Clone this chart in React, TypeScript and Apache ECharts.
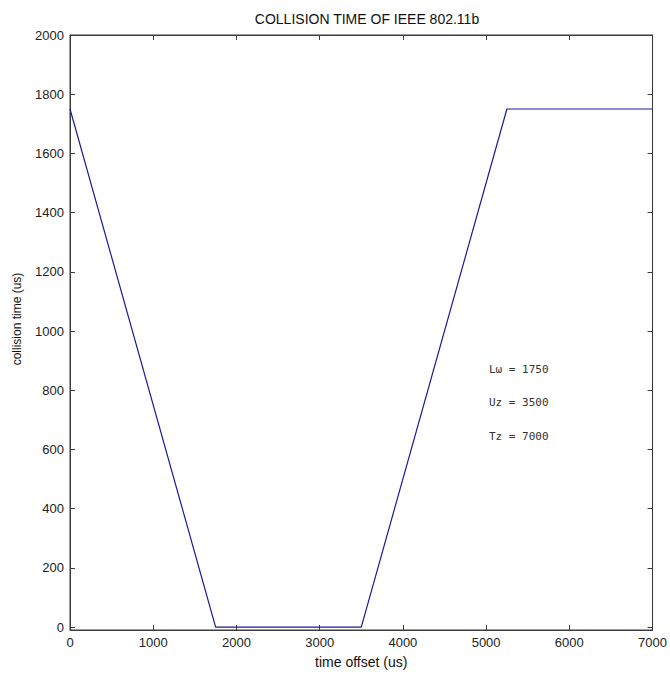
import React, { useEffect, useRef } from "react";
import * as echarts from "echarts";

const offsets = [0, 1750, 3500, 5250, 7000];
const collision = [1750, 0, 0, 1750, 1750];
const xRange = [0, 7000];
const xStep = 1000;
const yRange = [-10, 2000];
const ySplits = 10;
const notes = ["Lω = 1750", "Uz = 3500", "Tz = 7000"];

export default function App() {
  const ref = useRef<HTMLDivElement>(null);
  useEffect(() => {
    if (!ref.current) return;
    const chart = echarts.init(ref.current, null, { renderer: "svg" });
    const axisColor = "#3c3c3c";
    const font = "Liberation Sans, Arial, sans-serif";
    const tick = { show: true, inside: true, length: 5, lineStyle: { color: axisColor, width: 1 } };
    const line = { show: true, onZero: false, lineStyle: { color: axisColor, width: 1 } };
    const label = { fontFamily: font, fontSize: 13, color: "#222", margin: 6, formatter: (v: number) => String(v) };
    chart.setOption({
      animation: false,
      backgroundColor: "#ffffff",
      title: {
        text: "COLLISION TIME OF IEEE 802.11b",
        left: 362,
        top: 7,
        textAlign: "center",
        textStyle: { fontFamily: font, fontSize: 14, fontWeight: "normal", color: "#111" },
      },
      grid: { left: 70, right: 16, top: 35, bottom: 43, show: true, borderColor: axisColor, borderWidth: 1 },
      xAxis: [
        {
          type: "value",
          min: xRange[0],
          max: xRange[1],
          interval: xStep,
          position: "bottom",
          name: "time offset (us)",
          nameLocation: "middle",
          nameGap: 25,
          nameTextStyle: { fontFamily: font, fontSize: 14, color: "#111" },
          axisLine: line,
          axisTick: tick,
          axisLabel: label,
          splitLine: { show: false },
        },
        {
          type: "value",
          min: xRange[0],
          max: xRange[1],
          interval: xStep,
          position: "top",
          axisLine: line,
          axisTick: tick,
          axisLabel: { show: false },
          splitLine: { show: false },
        },
      ],
      yAxis: [
        {
          type: "value",
          min: yRange[0],
          max: yRange[1],
          splitNumber: ySplits,
          position: "left",
          axisLine: line,
          axisTick: tick,
          axisLabel: { ...label, showMinLabel: false },
          splitLine: { show: false },
        },
        {
          type: "value",
          min: yRange[0],
          max: yRange[1],
          splitNumber: ySplits,
          position: "right",
          axisLine: line,
          axisTick: tick,
          axisLabel: { show: false },
          splitLine: { show: false },
        },
      ],
      series: [
        {
          type: "line",
          data: offsets.map((x, i) => [x, collision[i]]),
          showSymbol: false,
          lineStyle: { color: "#1a1a9a", width: 1.2 },
          xAxisIndex: 0,
          yAxisIndex: 0,
        },
      ],
      graphic: [
        {
          type: "text",
          x: 17,
          y: 319,
          rotation: Math.PI / 2,
          style: {
            text: "collision time (us)",
            font: "12px 'Liberation Sans', Arial, sans-serif",
            fill: "#111",
            align: "center",
            verticalAlign: "middle",
          },
        },
        ...notes.map((t, i) => ({
          type: "text",
          left: 489,
          top: [364, 397, 431][i],
          style: { text: t, font: "11px 'DejaVu Sans Mono', monospace", fill: "#333" },
        })),
      ],
    });
    return () => chart.dispose();
  }, []);
  return <div ref={ref} style={{ position: "fixed", left: 0, top: 0, width: 670, height: 674 }} />;
}
